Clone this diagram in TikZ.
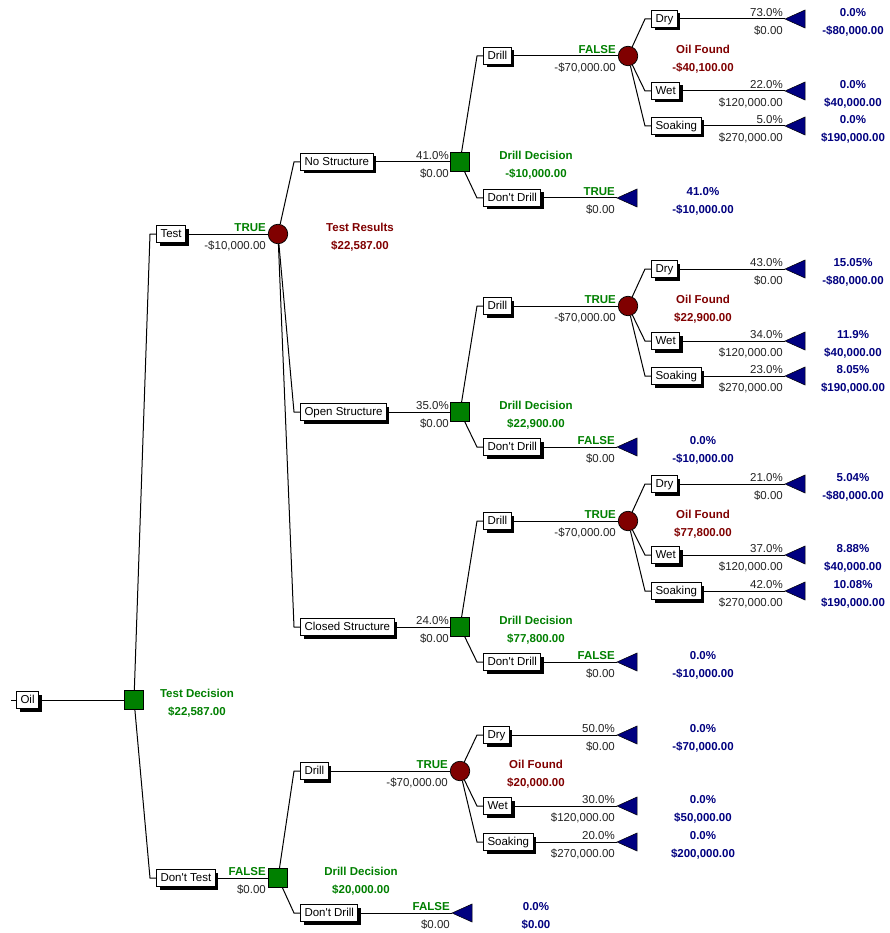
\documentclass[tikz,border=0pt]{standalone}
\usepackage{fontspec}
\setmainfont{Liberation Sans}
\usetikzlibrary{shadows}
\definecolor{decgreen}{RGB}{0,128,0}
\definecolor{chred}{RGB}{128,0,0}
\definecolor{termblue}{RGB}{0,0,128}
\definecolor{valgray}{RGB}{35,35,35}
\tikzset{
 conn/.style={line width=1pt, draw=black},
 branchbox/.style={draw=black, fill=white, line width=1pt, font=\fontsize{11.5}{13}\selectfont, inner xsep=4pt, inner ysep=0pt, minimum height=17pt, text height=8.2pt, text depth=1.2pt, anchor=west, drop shadow={shadow xshift=3pt, shadow yshift=-3pt, fill=black, opacity=1}},
 decnode/.style={rectangle, draw=black, fill=decgreen, minimum size=19pt, inner sep=0pt, line width=0.7pt},
 chnode/.style={circle, draw=black, fill=chred, minimum size=19.5pt, inner sep=0pt, line width=0.7pt},
 termtri/.style={draw=black, fill=termblue, line width=0.5pt, line join=miter},
 elab/.style={anchor=east, inner sep=0pt, font=\fontsize{11.5}{13}\selectfont, text=valgray, text height=8.2pt, text depth=0pt},
 tflab/.style={elab, text=decgreen, font=\fontsize{11.5}{13}\selectfont\bfseries},
 declab/.style={anchor=center, inner sep=0pt, font=\fontsize{11.5}{13}\selectfont\bfseries, text=decgreen, text height=8.2pt, text depth=0pt},
 chlab/.style={declab, text=chred},
 termlab/.style={declab, text=termblue},
}
\newcommand{\Bbox}[4]{\node[branchbox] (#1) at (#2,#3) {#4};}
\newcommand{\Elab}[6]{\node[#4] (#1u) at (#2,#3-6.5) {#5};\node[elab] (#1d) at (#2,#3+11) {#6};}
\newcommand{\Nlab}[6]{\node[#2] (#1u) at (#3,#4-7) {#5};\node[#2] (#1d) at (#3,#4+11.5) {#6};}
\newcommand{\Term}[3]{\coordinate (#1) at (#2,#3);\filldraw[termtri] (#1) -- ++(20,-9) -- ++(0,18) -- cycle;}
\newcommand{\Conn}[3]{\draw[conn] (#1) -- ([xshift=-6pt]#2.west) -- (#2.west);\draw[conn] (#2.east) -- (#3);}
\newcommand{\DT}{Don\textquotesingle t}
\begin{document}
\begin{tikzpicture}[x=1pt,y=-1pt]
\useasboundingbox (0,0) rectangle (889,933);
\fill[white] (0,0) rectangle (889,933);
% decision and chance nodes
\node[decnode] (D0) at (134,700) {};
\node[chnode] (C0) at (278,234) {};
\node[decnode] (D1) at (460,162) {};
\node[decnode] (D2) at (460,412) {};
\node[decnode] (D3) at (460,627) {};
\node[decnode] (D4) at (278,878) {};
\node[chnode] (C1) at (628,56) {};
\node[chnode] (C2) at (628,306) {};
\node[chnode] (C3) at (628,521) {};
\node[chnode] (C4) at (460,771) {};
% terminals
\Term{T11}{785}{19}\Term{T12}{785}{91}\Term{T13}{785}{126}\Term{T1n}{617}{198}
\Term{T21}{785}{269}\Term{T22}{785}{341}\Term{T23}{785}{376}\Term{T2n}{617}{447}
\Term{T31}{785}{484}\Term{T32}{785}{555}\Term{T33}{785}{591}\Term{T3n}{617}{662}
\Term{T41}{617}{735}\Term{T42}{617}{806}\Term{T43}{617}{842}\Term{T4n}{452}{913}
% boxes
\Bbox{bOil}{16}{700}{Oil}
\Bbox{bTest}{156}{234}{Test}
\Bbox{bDT}{156}{878}{\DT\ Test}
\Bbox{bNS}{300}{162}{No Structure}
\Bbox{bOS}{300}{412}{Open Structure}
\Bbox{bCS}{300}{627}{Closed Structure}
\Bbox{bD1}{483}{56}{Drill}\Bbox{bN1}{483}{198}{\DT\ Drill}
\Bbox{bD2}{483}{306}{Drill}\Bbox{bN2}{483}{447}{\DT\ Drill}
\Bbox{bD3}{483}{521}{Drill}\Bbox{bN3}{483}{662}{\DT\ Drill}
\Bbox{bD4}{300}{771}{Drill}\Bbox{bN4}{300}{913}{\DT\ Drill}
\Bbox{b11}{651}{19}{Dry}\Bbox{b12}{651}{91}{Wet}\Bbox{b13}{651}{126}{Soaking}
\Bbox{b21}{651}{269}{Dry}\Bbox{b22}{651}{341}{Wet}\Bbox{b23}{651}{376}{Soaking}
\Bbox{b31}{651}{484}{Dry}\Bbox{b32}{651}{555}{Wet}\Bbox{b33}{651}{591}{Soaking}
\Bbox{b41}{483}{735}{Dry}\Bbox{b42}{483}{806}{Wet}\Bbox{b43}{483}{842}{Soaking}
% connectors
\coordinate (rootstart) at (11,700);
\draw[conn] (rootstart) -- (bOil.west);
\draw[conn] (bOil.east) -- (D0.west);
\Conn{D0}{bTest}{C0.west}
\Conn{D0}{bDT}{D4.west}
\Conn{C0}{bNS}{D1.west}
\Conn{C0}{bOS}{D2.west}
\Conn{C0}{bCS}{D3.west}
\Conn{D1}{bD1}{C1.west}\Conn{D1}{bN1}{T1n}
\Conn{D2}{bD2}{C2.west}\Conn{D2}{bN2}{T2n}
\Conn{D3}{bD3}{C3.west}\Conn{D3}{bN3}{T3n}
\Conn{D4}{bD4}{C4.west}\Conn{D4}{bN4}{T4n}
\Conn{C1}{b11}{T11}\Conn{C1}{b12}{T12}\Conn{C1}{b13}{T13}
\Conn{C2}{b21}{T21}\Conn{C2}{b22}{T22}\Conn{C2}{b23}{T23}
\Conn{C3}{b31}{T31}\Conn{C3}{b32}{T32}\Conn{C3}{b33}{T33}
\Conn{C4}{b41}{T41}\Conn{C4}{b42}{T42}\Conn{C4}{b43}{T43}
% edge labels
\Elab{eTest}{266}{234}{tflab}{TRUE}{-\$10,000.00}
\Elab{eDT}{266}{878}{tflab}{FALSE}{\$0.00}
\Elab{eNS}{449}{162}{elab}{41.0\%}{\$0.00}
\Elab{eOS}{449}{412}{elab}{35.0\%}{\$0.00}
\Elab{eCS}{449}{627}{elab}{24.0\%}{\$0.00}
\Elab{eD1}{616}{56}{tflab}{FALSE}{-\$70,000.00}
\Elab{eN1}{615}{198}{tflab}{TRUE}{\$0.00}
\Elab{eD2}{616}{306}{tflab}{TRUE}{-\$70,000.00}
\Elab{eN2}{615}{447}{tflab}{FALSE}{\$0.00}
\Elab{eD3}{616}{521}{tflab}{TRUE}{-\$70,000.00}
\Elab{eN3}{615}{662}{tflab}{FALSE}{\$0.00}
\Elab{eD4}{448}{771}{tflab}{TRUE}{-\$70,000.00}
\Elab{eN4}{450}{913}{tflab}{FALSE}{\$0.00}
\Elab{e11}{783}{19}{elab}{73.0\%}{\$0.00}
\Elab{e12}{783}{91}{elab}{22.0\%}{\$120,000.00}
\Elab{e13}{783}{126}{elab}{5.0\%}{\$270,000.00}
\Elab{e21}{783}{269}{elab}{43.0\%}{\$0.00}
\Elab{e22}{783}{341}{elab}{34.0\%}{\$120,000.00}
\Elab{e23}{783}{376}{elab}{23.0\%}{\$270,000.00}
\Elab{e31}{783}{484}{elab}{21.0\%}{\$0.00}
\Elab{e32}{783}{555}{elab}{37.0\%}{\$120,000.00}
\Elab{e33}{783}{591}{elab}{42.0\%}{\$270,000.00}
\Elab{e41}{615}{735}{elab}{50.0\%}{\$0.00}
\Elab{e42}{615}{806}{elab}{30.0\%}{\$120,000.00}
\Elab{e43}{615}{842}{elab}{20.0\%}{\$270,000.00}
% node labels
\Nlab{lD0}{declab}{197}{700}{Test Decision}{\$22,587.00}
\Nlab{lC0}{chlab}{360}{234}{Test Results}{\$22,587.00}
\Nlab{lD1}{declab}{536}{162}{Drill Decision}{-\$10,000.00}
\Nlab{lD2}{declab}{536}{412}{Drill Decision}{\$22,900.00}
\Nlab{lD3}{declab}{536}{627}{Drill Decision}{\$77,800.00}
\Nlab{lD4}{declab}{361}{878}{Drill Decision}{\$20,000.00}
\Nlab{lC1}{chlab}{703}{56}{Oil Found}{-\$40,100.00}
\Nlab{lC2}{chlab}{703}{306}{Oil Found}{\$22,900.00}
\Nlab{lC3}{chlab}{703}{521}{Oil Found}{\$77,800.00}
\Nlab{lC4}{chlab}{536}{771}{Oil Found}{\$20,000.00}
% terminal labels
\Nlab{l11}{termlab}{853}{19}{0.0\%}{-\$80,000.00}
\Nlab{l12}{termlab}{853}{91}{0.0\%}{\$40,000.00}
\Nlab{l13}{termlab}{853}{126}{0.0\%}{\$190,000.00}
\Nlab{l1n}{termlab}{703}{198}{41.0\%}{-\$10,000.00}
\Nlab{l21}{termlab}{853}{269}{15.05\%}{-\$80,000.00}
\Nlab{l22}{termlab}{853}{341}{11.9\%}{\$40,000.00}
\Nlab{l23}{termlab}{853}{376}{8.05\%}{\$190,000.00}
\Nlab{l2n}{termlab}{703}{447}{0.0\%}{-\$10,000.00}
\Nlab{l31}{termlab}{853}{484}{5.04\%}{-\$80,000.00}
\Nlab{l32}{termlab}{853}{555}{8.88\%}{\$40,000.00}
\Nlab{l33}{termlab}{853}{591}{10.08\%}{\$190,000.00}
\Nlab{l3n}{termlab}{703}{662}{0.0\%}{-\$10,000.00}
\Nlab{l41}{termlab}{703}{735}{0.0\%}{-\$70,000.00}
\Nlab{l42}{termlab}{703}{806}{0.0\%}{\$50,000.00}
\Nlab{l43}{termlab}{703}{842}{0.0\%}{\$200,000.00}
\Nlab{l4n}{termlab}{536}{913}{0.0\%}{\$0.00}
\end{tikzpicture}
\end{document}
